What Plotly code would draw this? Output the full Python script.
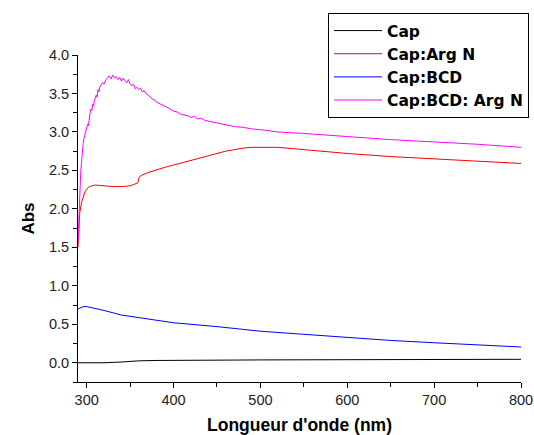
import plotly.graph_objects as go

# ---- data ----
cap_x = [290, 300, 320, 340, 360, 380, 400, 450, 500, 600, 700, 800]
cap_y = [0.0, 0.0, 0.0, 0.01, 0.025, 0.03, 0.032, 0.035, 0.037, 0.04, 0.042, 0.045]

arg_x = [290, 291, 292, 294, 296, 298, 300, 303, 306, 310, 320, 330, 340, 350, 355, 359,
         360, 362, 370, 380, 390, 400, 410, 420, 430, 440, 450, 460, 470, 480, 490, 500, 520,
         550, 600, 650, 700, 750, 800]
arg_y = [1.5, 1.75, 1.95, 2.08, 2.16, 2.22, 2.26, 2.29, 2.30, 2.31, 2.30, 2.29, 2.29, 2.30, 2.32, 2.34,
         2.40, 2.43, 2.47, 2.51, 2.54, 2.57, 2.60, 2.63, 2.66, 2.69, 2.72, 2.75, 2.77, 2.79, 2.80, 2.80, 2.80,
         2.77, 2.72, 2.68, 2.65, 2.62, 2.59]

bcd_x = [290, 293, 296, 300, 320, 340, 360, 380, 400, 450, 500, 550, 600, 650, 700, 750, 800]
bcd_y = [0.70, 0.72, 0.73, 0.73, 0.68, 0.62, 0.585, 0.55, 0.52, 0.47, 0.41, 0.37, 0.33, 0.29, 0.26, 0.23, 0.205]

bcdarg_x = [290, 291, 292, 293, 294, 295, 296, 297, 298, 299, 300, 301, 302, 303, 304, 305, 306, 307,
            308, 309, 310, 311, 312, 313, 314, 315, 316, 318, 320, 322, 324, 326, 328, 330, 332, 334,
            336, 338, 340, 342, 344, 346, 348, 350, 352, 354, 356, 358, 360, 362, 364, 366, 368, 370,
            372, 374, 376, 378, 380, 384, 388, 392, 396, 400, 404, 408, 412, 416, 420, 424, 428, 432,
            436, 440, 450, 460, 470, 480, 490, 500, 520, 550, 600, 650, 700, 750, 800]
bcdarg_y = [1.55, 1.9, 2.2, 2.45, 2.6, 2.75, 2.85, 2.92, 2.97, 3.02, 3.05, 3.1, 3.08, 3.2, 3.25, 3.3, 3.28, 3.36,
            3.34, 3.42, 3.44, 3.48, 3.45, 3.55, 3.52, 3.58, 3.6, 3.64, 3.62, 3.68, 3.7, 3.73, 3.69, 3.74, 3.7, 3.72,
            3.68, 3.71, 3.66, 3.7, 3.67, 3.64, 3.68, 3.62, 3.6, 3.62, 3.56, 3.58, 3.55, 3.57, 3.52, 3.54, 3.5, 3.49,
            3.46, 3.45, 3.42, 3.42, 3.39, 3.37, 3.34, 3.33, 3.30, 3.27, 3.26, 3.23, 3.22, 3.21, 3.19, 3.20, 3.17, 3.18,
            3.15, 3.14, 3.12, 3.09, 3.07, 3.06, 3.04, 3.03, 3.0, 2.98, 2.94, 2.9, 2.87, 2.84, 2.80]

names = ["Cap", "Cap:Arg N", "Cap:BCD", "Cap:BCD: Arg N"]
colors = ["#000000", "#ff0000", "#0000ff", "#ff00ff"]

fig = go.Figure()
for name, xs, ys, c in zip(names, [cap_x, arg_x, bcd_x, bcdarg_x], [cap_y, arg_y, bcd_y, bcdarg_y], colors):
    fig.add_trace(go.Scatter(x=xs, y=ys, mode="lines", name=name, line=dict(color=c, width=1)))

font = "Liberation Sans, Arial, sans-serif"
L, R, T, B = 78, 13, 55, 53
W, H = 534, 435
pw, ph = W - L - R, H - T - B
fig.update_layout(
    width=W, height=H,
    margin=dict(l=L, r=R, t=T, b=B, autoexpand=False),
    plot_bgcolor="white", paper_bgcolor="white",
    font=dict(family=font, size=14.5, color="#222222"),
    legend=dict(x=(328 - L) / pw, y=(H - B - 13) / ph,
                xanchor="left", yanchor="top",
                bordercolor="black", borderwidth=1, bgcolor="white",
                font=dict(family="DejaVu Sans", size=15.5, color="black", weight="bold"),
                tracegroupgap=0, itemwidth=48),
    xaxis=dict(range=[290, 800], showline=True, linecolor="black", linewidth=1, automargin=False,
               ticks="outside", ticklen=5, tickcolor="black", dtick=100, tick0=0,
               showgrid=False, zeroline=False,
               minor=dict(ticks="outside", ticklen=4, dtick=50, tickcolor="black", showgrid=False),
               title=dict(text="Longueur d'onde (nm)", font=dict(size=17.5, weight="bold", color="black"),
                          standoff=12)),
    yaxis=dict(range=[-0.25, 4.0], showline=True, linecolor="black", linewidth=1, automargin=False,
               ticks="outside", ticklen=5, tickcolor="black", dtick=0.5, tick0=0, tickformat=".1f",
               showgrid=False, zeroline=False,
               minor=dict(ticks="outside", ticklen=4, dtick=0.25, tickcolor="black", showgrid=False),
               title=dict(text="Abs", font=dict(size=17, weight="bold", color="black"), standoff=9)),
)
fig.write_html("out.html")
